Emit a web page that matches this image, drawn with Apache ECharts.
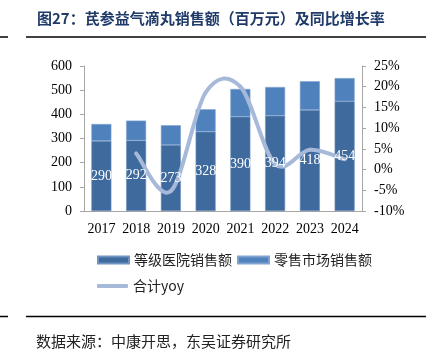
<!DOCTYPE html>
<html><head><meta charset="utf-8">
<script src="https://cdn.jsdelivr.net/npm/echarts@6/dist/echarts.min.js"></script>
<style>html,body{margin:0;padding:0;background:#fff}#c{width:426px;height:356px}</style>
</head><body><div id="c"></div>
<script>
const years = ['2017','2018','2019','2020','2021','2022','2023','2024'];
const hospitalSales = [290, 292, 273, 328, 390, 394, 418, 454];
const retailSales = [70, 82, 82, 93, 115, 119, 119, 96];
const totalYoy = [null, 3.9, -5.2, 18.6, 20.0, 1.3, 4.8, 2.5];
const leftTicks = {min: 0, max: 600, interval: 100};
const rightTicks = {min: -10, max: 25, interval: 5};

const serif = '"Liberation Serif","Times New Roman",serif';
const cjk = '"Noto Sans CJK SC",sans-serif';
const lineColor = '#A6B9D9';

const yoyData = [];
totalYoy.forEach((v, i) => { if (v !== null) yoyData.push([i, v]); });

function renderYoy(params, api) {
  if (params.dataIndex !== yoyData.length - 1) return null;
  const pts = yoyData.map(d => api.coord(d));
  const children = [];
  for (let i = 0; i < pts.length - 1; i++) {
    const p0 = pts[Math.max(i - 1, 0)], p1 = pts[i], p2 = pts[i + 1], p3 = pts[Math.min(i + 2, pts.length - 1)];
    children.push({
      type: 'bezierCurve',
      shape: {
        x1: p1[0], y1: p1[1], x2: p2[0], y2: p2[1],
        cpx1: p1[0] + (p2[0] - p0[0]) / 6, cpy1: p1[1] + (p2[1] - p0[1]) / 6,
        cpx2: p2[0] - (p3[0] - p1[0]) / 6, cpy2: p2[1] - (p3[1] - p1[1]) / 6
      },
      style: {stroke: lineColor, lineWidth: 4, fill: null, lineCap: 'round'}
    });
  }
  return {type: 'group', children: children};
}

const chart = echarts.init(document.getElementById('c'), null, {renderer: 'canvas'});
chart.setOption({
  animation: false,
  backgroundColor: '#fff',
  grid: {left: 84, right: 64, top: 66, bottom: 145},
  legend: [{
    left: 92, top: 248, itemWidth: 31, itemHeight: 7, itemGap: 5,
    textStyle: {fontFamily: cjk, fontSize: 14, color: '#222'},
    data: [{name: '等级医院销售额', icon: 'rect'}, {name: '零售市场销售额', icon: 'rect'}]
  }, {
    left: 92, top: 274, itemWidth: 31, itemHeight: 4, itemGap: 5,
    textStyle: {fontFamily: cjk, fontSize: 14, color: '#222'},
    data: [{name: '合计yoy', icon: 'roundRect', itemStyle: {color: lineColor}}]
  }],
  xAxis: {
    type: 'category', data: years,
    axisLine: {lineStyle: {color: '#a6a6a6', width: 1}},
    axisTick: {show: false},
    axisLabel: {fontFamily: serif, fontSize: 14, color: '#000', margin: 11, interval: 0}
  },
  yAxis: [{
    type: 'value', min: leftTicks.min, max: leftTicks.max, interval: leftTicks.interval,
    axisLine: {show: true, lineStyle: {color: '#a6a6a6'}},
    axisTick: {show: true, length: 4, lineStyle: {color: '#a6a6a6'}},
    splitLine: {show: false},
    axisLabel: {fontFamily: serif, fontSize: 14, color: '#000', margin: 12}
  }, {
    type: 'value', min: rightTicks.min, max: rightTicks.max, interval: rightTicks.interval,
    axisLine: {show: true, lineStyle: {color: '#a6a6a6'}},
    axisTick: {show: true, length: 4, lineStyle: {color: '#a6a6a6'}},
    splitLine: {show: false},
    axisLabel: {fontFamily: serif, fontSize: 14, color: '#000', margin: 12, formatter: '{value}%'}
  }],
  series: [{
    name: '等级医院销售额', type: 'bar', stack: 's', barWidth: 20, barGap: '-100%',
    data: hospitalSales,
    itemStyle: {color: '#3F6A9E', borderColor: '#6f93c0', borderWidth: 0.6}
  }, {
    name: '零售市场销售额', type: 'bar', stack: 's', barWidth: 20, barGap: '-100%',
    data: retailSales,
    itemStyle: {color: '#4F81BD', borderColor: '#7ea3d0', borderWidth: 0.6}
  }, {
    name: '合计yoy', type: 'custom', yAxisIndex: 1, z: 5,
    data: yoyData, encode: {x: 0, y: 1},
    itemStyle: {color: lineColor},
    renderItem: renderYoy
  }, {
    name: 'hospitalLabels', type: 'bar', barWidth: 20, barGap: '-100%', z: 10,
    data: hospitalSales, silent: true,
    itemStyle: {color: 'rgba(0,0,0,0)'},
    label: {show: true, position: 'inside', color: '#fff', fontFamily: serif, fontSize: 14}
  }],
  graphic: [
    {type: 'text', left: 37, top: 11, style: {text: '图27：芪参益气滴丸销售额（百万元）及同比增长率', fontFamily: cjk, fontSize: 15, fontWeight: 'bold', fill: '#1F3A68'}},
    {type: 'line', shape: {x1: 0, y1: 37, x2: 8, y2: 37}, style: {stroke: '#000', lineWidth: 1.5}},
    {type: 'line', shape: {x1: 26, y1: 37, x2: 426, y2: 37}, style: {stroke: '#000', lineWidth: 1.5}},
    {type: 'line', shape: {x1: 0, y1: 316.5, x2: 8, y2: 316.5}, style: {stroke: '#000', lineWidth: 1.5}},
    {type: 'line', shape: {x1: 26, y1: 316.5, x2: 426, y2: 316.5}, style: {stroke: '#000', lineWidth: 1.5}},
    {type: 'text', left: 36, top: 334, style: {text: '数据来源：中康开思，东吴证券研究所', fontFamily: cjk, fontSize: 15, fill: '#222'}}
  ]
});
</script></body></html>
